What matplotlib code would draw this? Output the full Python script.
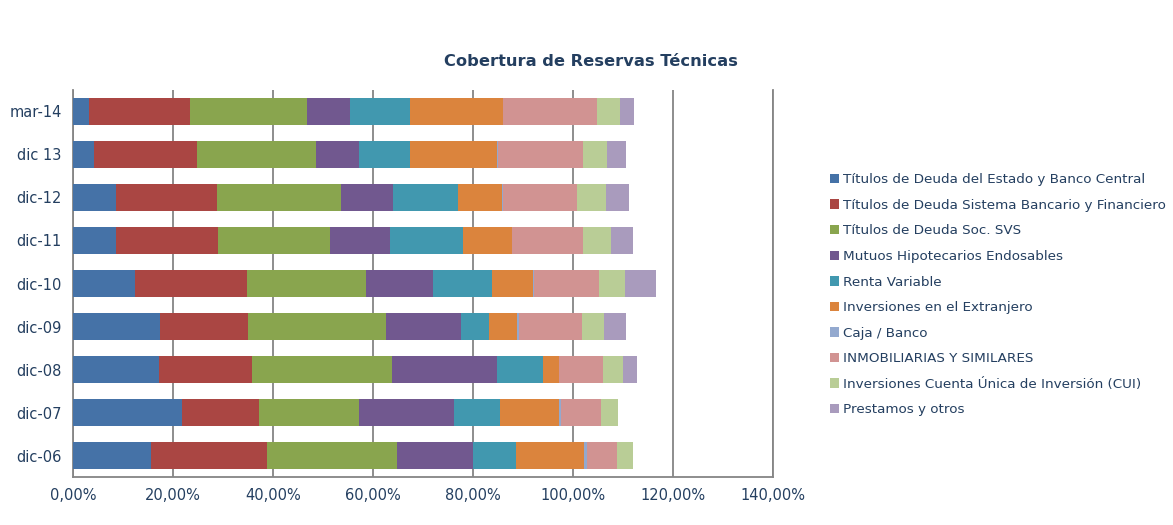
import matplotlib.pyplot as plt
from matplotlib.ticker import FuncFormatter
import numpy as np

categorias = ["dic-06", "dic-07", "dic-08", "dic-09", "dic-10", "dic-11", "dic-12", "dic 13", "mar-14"]

estado = [15.6, 21.8, 17.2, 17.5, 12.4, 8.6, 8.6, 4.2, 3.2]
bancario = [23.2, 15.4, 18.6, 17.4, 22.4, 20.4, 20.1, 20.6, 20.2]
svs = [26.0, 19.9, 28.0, 27.6, 23.7, 22.3, 24.9, 23.7, 23.3]
mutuos = [15.1, 19.0, 20.9, 15.1, 13.5, 12.1, 10.3, 8.7, 8.7]
renta = [8.6, 9.2, 9.2, 5.6, 11.7, 14.6, 13.0, 10.2, 11.9]
extranjero = [13.6, 11.9, 3.2, 5.6, 8.3, 9.7, 8.8, 17.4, 18.6]
caja = [0.6, 0.3, 0.1, 0.4, 0.2, 0.1, 0.3, 0.1, 0.1]
inmob = [6.0, 8.0, 8.7, 12.5, 12.9, 14.1, 14.8, 17.0, 18.8]
cui = [3.2, 3.5, 4.0, 4.5, 5.3, 5.6, 5.7, 4.8, 4.6]
prestamos = [0.0, 0.0, 2.8, 4.4, 6.1, 4.5, 4.7, 3.8, 2.8]

nombres = ["Títulos de Deuda del Estado y Banco Central",
           "Títulos de Deuda Sistema Bancario y Financiero",
           "Títulos de Deuda Soc. SVS",
           "Mutuos Hipotecarios Endosables",
           "Renta Variable",
           "Inversiones en el Extranjero",
           "Caja / Banco",
           "INMOBILIARIAS Y SIMILARES",
           "Inversiones Cuenta Única de Inversión (CUI)",
           "Prestamos y otros"]
series = [estado, bancario, svs, mutuos, renta, extranjero, caja, inmob, cui, prestamos]
colores = ["#4572A7", "#AA4643", "#89A54E", "#71588F", "#4198AF",
           "#DB843D", "#93A9CF", "#D19392", "#B9CD96", "#A99BBD"]

texto = "#243F60"

fig = plt.figure(figsize=(11.73, 5.25), dpi=100)
ax = fig.add_axes([0.0622, 0.0914, 0.597, 0.7372])

y = np.arange(len(categorias))
izq = np.zeros(len(categorias))
for vals, nom, col in zip(series, nombres, colores):
    v = np.array(vals) / 100
    ax.barh(y, v, left=izq, height=0.63, color=col, label=nom, linewidth=0, zorder=3)
    izq = izq + v

ax.set_xlim(0, 1.4)
ax.set_ylim(-0.5, len(categorias) - 0.5)
ax.set_xticks(np.arange(0, 1.41, 0.2))
ax.xaxis.set_major_formatter(FuncFormatter(lambda x, p: f"{x*100:.2f}%".replace(".", ",")))
ax.set_yticks(y)
ax.set_yticklabels(categorias)
ax.grid(axis="x", color="#858585", linewidth=1.3, zorder=0)
ax.tick_params(axis="both", length=0, labelsize=10.5, labelcolor=texto)
ax.tick_params(axis="y", pad=8)
ax.tick_params(axis="x", pad=8)
for s in ["left", "bottom", "right"]:
    ax.spines[s].set_color("#858585")
    ax.spines[s].set_linewidth(1.3)
ax.spines["top"].set_visible(False)

fig.text(0.504, 0.882, "Cobertura de Reservas Técnicas", ha="center", va="center",
         fontsize=11.7, fontweight="bold", color=texto)

leg = fig.legend(loc="upper left", bbox_to_anchor=(0.703, 0.680), frameon=False,
                 fontsize=9.7, labelcolor=texto, handlelength=0.7, handleheight=0.7,
                 handletextpad=0.3, labelspacing=0.93, borderaxespad=0)

plt.savefig("out.png", dpi=100)
